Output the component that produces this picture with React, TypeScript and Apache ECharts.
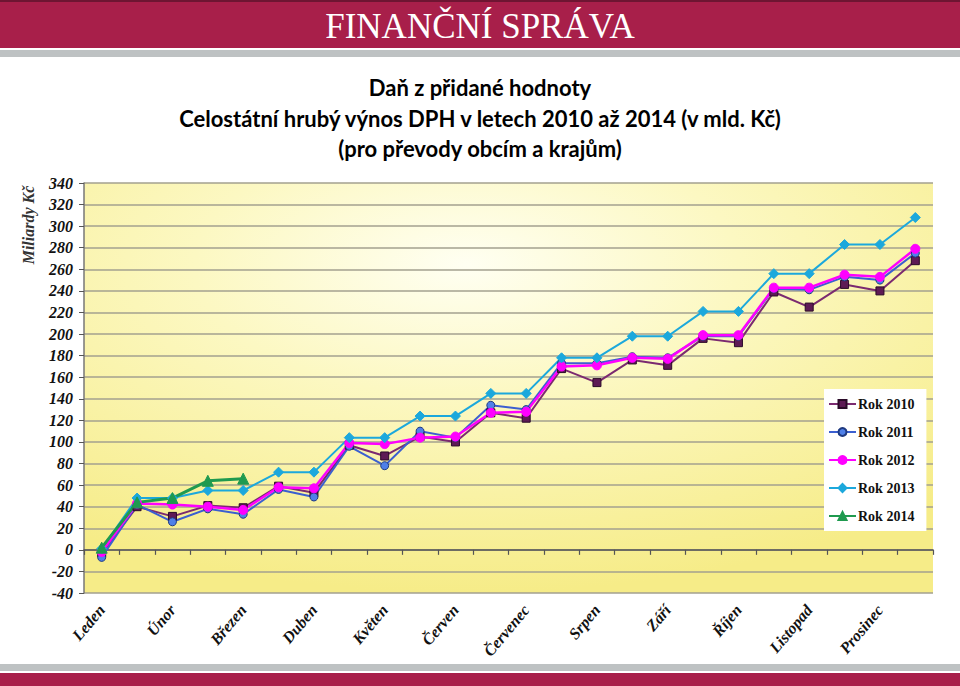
import React, { useEffect, useRef } from "react";
import * as echarts from "echarts";

const months = ["Leden", "Únor", "Březen", "Duben", "Květen", "Červen", "Červenec", "Srpen", "Září", "Říjen", "Listopad", "Prosinec"];
// two readings per month (mid-month, end of month)
const categories = months.flatMap((m) => [m, m + " II"]);

const yTickMin = -40;
const yTickMax = 340;
const yTickStep = 20;

const rok2010 = [-3, 40, 31, 41, 39, 59, 53, 97, 87, 105, 100, 127, 122, 168, 155, 176, 171, 196, 192, 239, 225, 246, 240, 268];
const rok2011 = [-7, 42, 26, 38, 33, 56, 49, 96, 78, 110, 104, 134, 130, 173, 173, 179, 178, 198, 198, 242, 241, 253, 250, 275];
const rok2012 = [-2, 43, 42, 40, 37, 58, 57, 99, 98, 104, 105, 127, 128, 170, 171, 178, 177, 199, 199, 243, 243, 255, 253, 279];
const rok2013 = [1, 48, 48, 55, 55, 72, 72, 104, 104, 124, 124, 145, 145, 178, 178, 198, 198, 221, 221, 256, 256, 283, 283, 308];
const rok2014 = [2, 44, 48, 64, 66];

const seriesNames = ["Rok 2010", "Rok 2011", "Rok 2012", "Rok 2013", "Rok 2014"];

const titleLines = [
  "Daň z přidané hodnoty",
  "Celostátní hrubý výnos DPH v letech 2010 až 2014 (v mld. Kč)",
  "(pro převody obcím a krajům)",
];

export default function App() {
  const ref = useRef<HTMLDivElement>(null);
  useEffect(() => {
    if (!ref.current) return;
    const chart = echarts.init(ref.current, null, { renderer: "svg" });
    const serif = "'Liberation Serif', 'Times New Roman', serif";
    const crimson = "#A81F4A";
    const mk = (
      name: string,
      data: number[],
      lineColor: string,
      symbol: string,
      size: number,
      fill: string,
      border: string,
      width: number
    ) => ({
      name,
      type: "line",
      data,
      xAxisIndex: 0,
      yAxisIndex: 0,
      symbol,
      symbolSize: size,
      showAllSymbol: true,
      lineStyle: { color: lineColor, width },
      itemStyle: { color: fill, borderColor: border, borderWidth: 1 },
      emphasis: { disabled: true },
    });
    const titleY = [87, 118, 148];
    chart.setOption({
      animation: false,
      backgroundColor: "#ffffff",
      graphic: [
        { type: "rect", shape: { x: 0, y: 0, width: 960, height: 48 }, style: { fill: crimson }, silent: true },
        { type: "rect", shape: { x: 0, y: 0, width: 960, height: 2 }, style: { fill: "#6E1532" }, silent: true },
        { type: "rect", shape: { x: 0, y: 50, width: 960, height: 7 }, style: { fill: "#BEC2C3" }, silent: true },
        { type: "rect", shape: { x: 0, y: 664, width: 960, height: 7 }, style: { fill: "#BEC2C3" }, silent: true },
        { type: "rect", shape: { x: 0, y: 673, width: 960, height: 13 }, style: { fill: crimson }, silent: true },
        {
          type: "text",
          x: 480,
          y: 26,
          style: {
            text: "FINANČNÍ SPRÁVA",
            fill: "#ffffff",
            font: "35px 'Liberation Serif', serif",
            textAlign: "center",
            textVerticalAlign: "middle",
          },
          silent: true,
        },
        ...titleLines.map((t, i) => ({
          type: "text",
          x: 480,
          y: titleY[i],
          style: {
            text: t,
            fill: "#000000",
            font: "bold 22px Lato, 'Noto Sans', sans-serif",
            textAlign: "center",
            textVerticalAlign: "middle",
          },
          silent: true,
        })),
        {
          type: "text",
          x: 28,
          y: 225,
          rotation: Math.PI / 2,
          style: {
            text: "Miliardy Kč",
            fill: "#333333",
            font: "italic bold 16px 'Liberation Serif', serif",
            textAlign: "center",
            textVerticalAlign: "middle",
          },
          silent: true,
        },
      ],
      legend: {
        orient: "vertical",
        left: 824,
        top: 389,
        backgroundColor: "#ffffff",
        padding: [8, 12, 8, 4],
        itemWidth: 27,
        itemHeight: 10,
        itemGap: 14,
        data: seriesNames,
        textStyle: {
          fontFamily: serif,
          fontWeight: "bold",
          fontSize: 14,
          color: "#111111",
          padding: [0, 0, 0, -3],
        },
      },
      grid: {
        left: 84,
        right: 27,
        top: 183,
        bottom: 93,
        show: true,
        borderWidth: 0,
        backgroundColor: {
          type: "radial",
          x: 0.45,
          y: 0.2,
          r: 0.8,
          colorStops: [
            { offset: 0, color: "#FFFFF2" },
            { offset: 0.4, color: "#FCF8C2" },
            { offset: 1, color: "#F6EC88" },
          ],
        },
      },
      xAxis: [
        {
          type: "category",
          data: categories,
          boundaryGap: true,
          axisLine: { onZero: true, lineStyle: { color: "#555555", width: 1.5 } },
          axisTick: { show: true, interval: 0, length: 5, lineStyle: { color: "#555555", width: 1.2 } },
          axisLabel: { show: false },
          splitLine: { show: false },
        },
        {
          type: "category",
          data: categories,
          position: "bottom",
          boundaryGap: true,
          axisLine: { show: false, onZero: false },
          axisTick: { show: false },
          splitLine: { show: false },
          axisLabel: {
            show: true,
            interval: 0,
            rotate: 50,
            margin: 14,
            fontFamily: serif,
            fontStyle: "italic",
            fontWeight: "bold",
            fontSize: 16,
            color: "#111111",
            padding: [0, 0, 0, 0],
            formatter: (v: string, i: number) => (i % 2 === 0 ? v : ""),
          },
        },
      ],
      yAxis: {
        type: "value",
        min: yTickMin,
        max: yTickMax,
        interval: yTickStep,
        axisLine: { show: true, lineStyle: { color: "#777777", width: 1.5 } },
        axisTick: { show: true, length: 5, lineStyle: { color: "#555555" } },
        axisLabel: {
          margin: 11,
          fontFamily: serif,
          fontStyle: "italic",
          fontWeight: "bold",
          fontSize: 16,
          color: "#111111",
        },
        splitLine: { show: true, lineStyle: { color: "#A3A08F", width: 1.5 } },
      },
      series: [
        mk(seriesNames[0], rok2010, "#7B2A70", "rect", 8, "#5E1A55", "#2A0A28", 2),
        mk(seriesNames[1], rok2011, "#3B5FD0", "circle", 8, "#4F80E8", "#1F3A80", 2),
        mk(seriesNames[2], rok2012, "#FF00FF", "circle", 9, "#FF00FF", "#FF00FF", 2.5),
        mk(seriesNames[3], rok2013, "#1CA8DC", "diamond", 10, "#1CA8DC", "#1CA8DC", 2),
        mk(seriesNames[4], rok2014, "#1F9A4F", "triangle", 11, "#1F9A4F", "#1F9A4F", 3),
      ],
    });
    return () => chart.dispose();
  }, []);
  return <div ref={ref} style={{ width: 960, height: 686, position: "absolute", left: 0, top: 0 }} />;
}
